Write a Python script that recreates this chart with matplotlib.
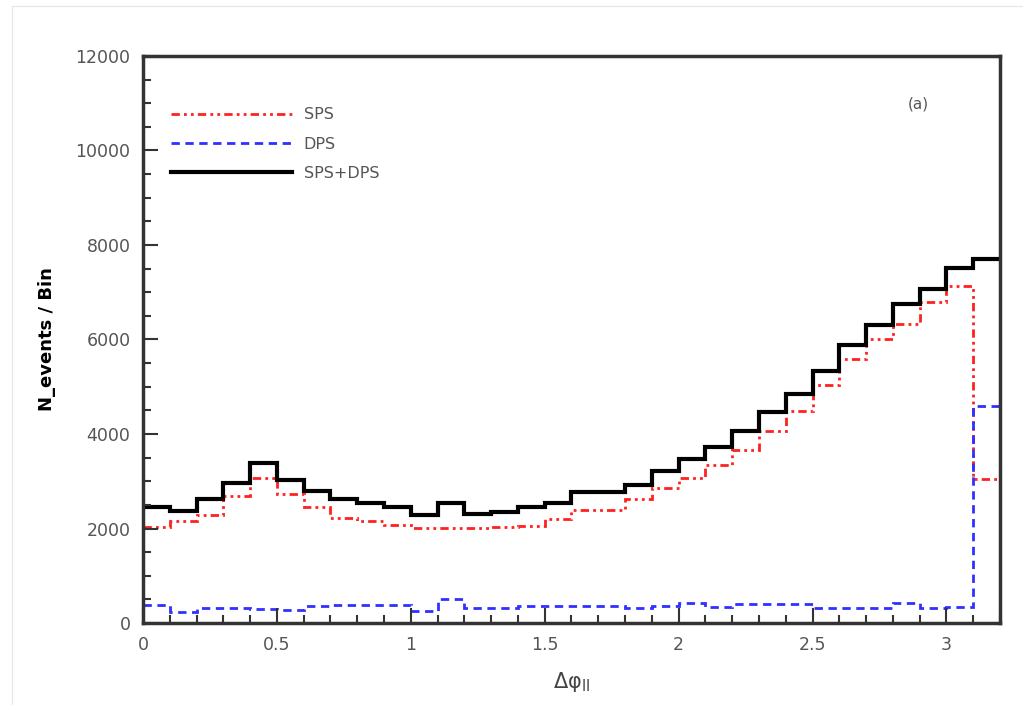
import numpy as np
import matplotlib
matplotlib.use('Agg')
import matplotlib.pyplot as plt
from matplotlib.ticker import MultipleLocator

plt.rcParams['font.family'] = ['DejaVu Sans']

# bin edges of delta phi (0.1 wide, 0 to 3.2)
bin_edges = [round(0.1 * i, 1) for i in range(33)]

# events per bin
sps = [2040, 2160, 2290, 2680, 3065, 2730, 2450, 2230, 2150, 2080,
       2010, 2010, 2020, 2040, 2060, 2200, 2390, 2390, 2620, 2850,
       3065, 3350, 3665, 4070, 4490, 5040, 5590, 6010, 6330, 6790,
       7140, 3045]
dps = [380, 240, 325, 325, 305, 275, 360, 375, 375, 375,
       260, 510, 310, 310, 360, 360, 360, 360, 310, 360,
       415, 345, 400, 400, 400, 310, 310, 325, 430, 310,
       345, 4600]
total = [2445, 2380, 2630, 2960, 3385, 3030, 2800, 2620, 2530, 2445,
         2290, 2535, 2300, 2345, 2445, 2550, 2780, 2780, 2925, 3225,
         3465, 3720, 4055, 4475, 4850, 5325, 5890, 6315, 6760, 7070,
         7515, 7705]

fig = plt.figure(figsize=(10.23, 7.05), dpi=100)
ax = fig.add_axes([0.1398, 0.1163, 0.8377, 0.8043])

ax.stairs(sps, bin_edges, baseline=None, color='#ff2020', lw=2,
          linestyle=(0, (3, 1.5, 1, 1.5, 1, 1.5)), label='SPS')
ax.stairs(dps, bin_edges, baseline=None, color='#3030ff', lw=2,
          linestyle=(0, (3, 2)), label='DPS')
ax.stairs(total, bin_edges, baseline=None, color='black', lw=3,
          label='SPS+DPS')

ax.set_xlim(0, 3.2)
ax.set_ylim(0, 12000)
ax.xaxis.set_major_locator(MultipleLocator(0.5))
ax.xaxis.set_minor_locator(MultipleLocator(0.1))
ax.yaxis.set_major_locator(MultipleLocator(2000))
ax.yaxis.set_minor_locator(MultipleLocator(500))
ax.xaxis.set_major_formatter(plt.FuncFormatter(lambda v, p: '%g' % v))
ax.tick_params(which='both', direction='in', top=False, right=False,
               labelsize=12.5, colors='#333333', labelcolor='#555555', width=1.5)
ax.tick_params(which='major', length=11, pad=9)
ax.tick_params(which='minor', length=6)
for s in ax.spines.values():
    s.set_linewidth(2.5)
    s.set_color('#333333')

ax.set_ylabel('N_events / Bin', fontsize=13, fontweight='bold', labelpad=14)
ax.set_xlabel('Δφ$_{\\mathrm{ll}}$', fontsize=15, labelpad=12, color='#444444')
ax.text(0.905, 0.915, '(a)', transform=ax.transAxes, fontsize=11,
        color='#555555', ha='center', va='center')

ax.legend(loc='upper left', bbox_to_anchor=(0.016, 0.935), frameon=False,
          fontsize=11.5, handlelength=7.6, labelspacing=0.9, handletextpad=0.7,
          labelcolor='#555555')

# faint outer frame of the original picture
fig.patches.append(plt.Rectangle((0.012, -0.01), 1.0, 1.002,
                                 transform=fig.transFigure, fill=False,
                                 lw=0.8, ec='#e6e6e6'))

plt.savefig('out.png', dpi=100)
